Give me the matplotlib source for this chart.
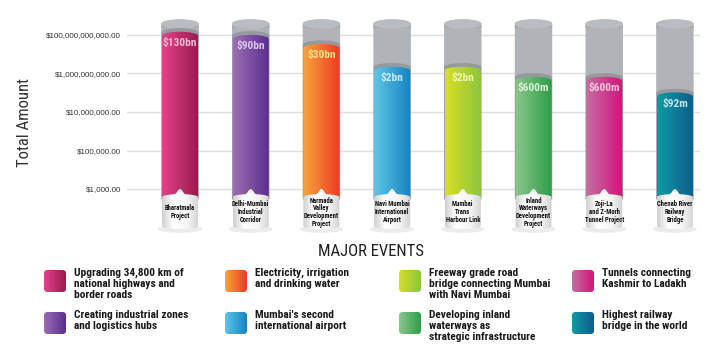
import numpy as np
import matplotlib
matplotlib.use("Agg")
import matplotlib.pyplot as plt
from matplotlib import font_manager
from matplotlib.patches import Polygon, FancyBboxPatch, Ellipse
from matplotlib.colors import LinearSegmentedColormap

# ---------------- data ----------------
projects = ["Bharatmala\nProject", "Delhi-Mumbai\nIndustrial\nCorridor",
            "Narmada\nValley\nDevelopment\nProject", "Navi Mumbai\nInternational\nAirport",
            "Mumbai\nTrans\nHarbour Link", "Inland\nWaterways\nDevelopment\nProject",
            "Zoji-La\nand Z-Morh\nTunnel Project", "Chenab River\nRailway\nBridge"]
values = [130e9, 90e9, 30e9, 2e9, 2e9, 600e6, 600e6, 92e6]
value_labels = ["$130bn", "$90bn", "$30bn", "$2bn", "$2bn", "$600m", "$600m", "$92m"]
descriptions = ["Upgrading 34,800 km of\nnational highways and\nborder roads",
                "Creating industrial zones\nand logistics hubs",
                "Electricity, irrigation\nand drinking water",
                "Mumbai's second\ninternational airport",
                "Freeway grade road\nbridge connecting Mumbai\nwith Navi Mumbai",
                "Developing inland\nwaterways as\nstrategic infrastructure",
                "Tunnels connecting\nKashmir to Ladakh",
                "Highest railway\nbridge in the world"]
tick_values = [1e3, 1e5, 1e7, 1e9, 1e11]
tick_labels = [f"${v:,.2f}" for v in tick_values]
y_label = "Total Amount"
legend_title = "MAJOR EVENTS"

colors_light = ["#e2438b", "#9e6db5", "#f8a53b", "#5ec6e6", "#d8df24", "#8bc78c", "#c46fa1", "#0f9ba5"]
colors_dark = ["#981a4a", "#582d8e", "#ee3a25", "#1583c2", "#8ac540", "#2d9d48", "#d3137a", "#0e5b8c"]
label_colors = ["#f4b8d2", "#d8c6e8", "#fde08c", "#c8ecf8", "#eff5b0", "#d8efd4", "#f5c4de", "#c0e4ea"]

# ---------------- fonts ----------------
available = {f.name for f in font_manager.fontManager.ttflist}
def pick(cands):
    for c in cands:
        if c in available:
            return c
    return "DejaVu Sans"
NARROW = pick(["Roboto Condensed", "Liberation Sans Narrow", "Arial Narrow", "Liberation Sans"])
SANS = pick(["Liberation Sans", "Arial", "DejaVu Sans"])
is_narrow = NARROW != "Liberation Sans"

# ---------------- figure ----------------
W, H, DPI = 715, 364, 100
fig = plt.figure(figsize=(W / DPI, H / DPI), dpi=DPI)
fig.patch.set_facecolor("white")

ax = fig.add_axes([127 / W, (H - 235) / H, (700 - 127) / W, 225 / H])
ax.set_yscale("log")
px_dec = 19.25
ylo = 3 - 46 / px_dec
yhi = 11 + 25 / px_dec

x = np.arange(len(values))
bw = 0.51
base = 300.0
top = 3.7e11
vals = np.array(values)
ax.bar(x, top - vals, bottom=vals, width=bw, color="#b0b4b8", zorder=2)
ax.bar(x, vals - base, bottom=base, width=bw, color=colors_dark, zorder=3)

ax.set_xlim(-0.75, 7.355)
ax.set_ylim(10 ** ylo, 10 ** yhi)
ax.set_yticks(tick_values)
ax.set_yticklabels(tick_labels, fontsize=5.8, color="#333333", family=SANS)
ax.yaxis.set_minor_locator(matplotlib.ticker.NullLocator())
ax.tick_params(axis="y", length=0, pad=4.3)
ax.set_xticks([])
for s in ax.spines.values():
    s.set_visible(False)
ax.yaxis.grid(True, color="#dedede", lw=1.0, zorder=0)
ax.set_axisbelow(True)
ax.set_ylabel(y_label, fontsize=12 if is_narrow else 11, color="#333333",
              family=NARROW, va="center")
ax.yaxis.set_label_coords((25 - 127) / 573, (235 - 123) / 225)

# ---------------- overlay in pixel coords ----------------
ov = fig.add_axes([0, 0, 1, 1], zorder=5)
ov.set_xlim(0, W)
ov.set_ylim(0, H)
ov.axis("off")
ov.patch.set_alpha(0)

grad = np.linspace(0, 1, 256).reshape(1, -1)
fig.canvas.draw()

def dome_poly(xl, xr, yb, yt, dh, n=40):
    xc = (xl + xr) / 2
    hw = (xr - xl) / 2
    th = np.linspace(0, np.pi, n)
    arc = np.column_stack([xc + hw * np.cos(th), yt + dh * np.sin(th)])
    return np.vstack([[xl, yb], [xr, yb], arc])

def grad_fill(poly, cmap, z):
    p = Polygon(poly, closed=True, facecolor="none", edgecolor="none", transform=ov.transData)
    ov.add_patch(p)
    ext = (poly[:, 0].min(), poly[:, 0].max(), poly[:, 1].min(), poly[:, 1].max())
    im = ov.imshow(grad, extent=ext, cmap=cmap, aspect="auto", zorder=z, interpolation="bilinear")
    im.set_clip_path(p)

base_cmap = LinearSegmentedColormap.from_list("b", [(0, "#cfcfcf"), (0.3, "#ffffff"), (0.7, "#f4f4f4"), (1, "#d2d2d2")])
dh = 4.0
for i in range(len(values)):
    xl, yv = ax.transData.transform((i - bw / 2, values[i]))
    xr, yb = ax.transData.transform((i + bw / 2, base))
    _, yt = ax.transData.transform((i, top))
    xc = (xl + xr) / 2
    # gray cylinder
    ov.add_patch(Polygon(dome_poly(xl, xr, yv, yt, dh), closed=True, color="#b0b4b8", zorder=1))
    ov.add_patch(Polygon(dome_poly(xl, xr, yt - 3, yt - 2, dh), closed=True, color="#a4a8ac", zorder=1.5))
    ov.add_patch(Ellipse((xc, yt), xr - xl, 2 * dh, color="#b9bdc0", zorder=1.6))
    # shadow above coloured fill
    ov.add_patch(Polygon(dome_poly(xl, xr, yb, yv, dh), closed=True, color="#969a9e", zorder=2))
    # coloured fill
    cmap = LinearSegmentedColormap.from_list("c%d" % i, [colors_light[i], colors_dark[i]])
    grad_fill(dome_poly(xl, xr, yb, yv - 3, dh), cmap, 3)
    # value label
    ov.text(xc, yv - 10, value_labels[i], ha="center", va="center", color=label_colors[i],
            fontsize=8.2 if is_narrow else 7.5, fontweight="bold", family=NARROW, zorder=6)
    # white base with bump
    hw = (xr - xl) / 2
    xs = np.linspace(xl, xr, 80)
    u = (xs - xc) / hw
    ytop = yb + 2 + 3 * np.sqrt(np.clip(1 - u ** 2, 0, 1))
    d = np.abs(xs - xc)
    ytop = ytop + np.where(d < 5.5, 5 * 0.5 * (1 + np.cos(np.pi * d / 5.5)), 0)
    ybot = (yb - 27) - 3 * np.sqrt(np.clip(1 - u ** 2, 0, 1))
    poly = np.vstack([np.column_stack([xs, ytop]), np.column_stack([xs[::-1], ybot[::-1]])])
    ov.add_patch(Ellipse((xc, yb - 30), xr - xl + 6, 6, color="#ececec", zorder=3.5))
    grad_fill(poly, base_cmap, 4)
    ov.text(xc, yb - 13, projects[i], ha="center", va="center", fontsize=4.8 if is_narrow else 4.3,
            fontweight="bold", family=NARROW, color="#111111", linespacing=0.95, zorder=6)

# ---------------- legend ----------------
ov.text(371, H - 252, legend_title, ha="center", va="center", fontsize=12 if is_narrow else 10.5,
        family=NARROW, color="#222222")
sw_x = [44, 225, 399, 572]
sw_y = [270, 312]
for i in range(len(values)):
    c, r = i // 2, i % 2
    x0 = sw_x[c]
    y0 = H - sw_y[r] - 22
    box = FancyBboxPatch((x0, y0), 22, 22, boxstyle="round,pad=0,rounding_size=3.5",
                         facecolor="none", edgecolor="none", transform=ov.transData)
    ov.add_patch(box)
    cmap = LinearSegmentedColormap.from_list("l%d" % i, [colors_light[i], colors_dark[i]])
    im = ov.imshow(grad, extent=(x0, x0 + 22, y0, y0 + 22), cmap=cmap, aspect="auto", zorder=3)
    im.set_clip_path(box)
    ov.text(x0 + 30, H - sw_y[r] + 2, descriptions[i], ha="left", va="top",
            fontsize=8.2 if is_narrow else 7.2, fontweight="bold", family=NARROW,
            color="#1a1a1a", linespacing=1.12)

ov.set_xlim(0, W)
ov.set_ylim(0, H)
fig.savefig("out.png", dpi=DPI, facecolor="white")
